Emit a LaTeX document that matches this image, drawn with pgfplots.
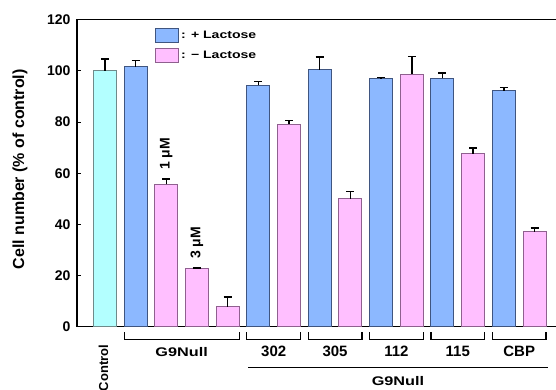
\documentclass[border=0pt]{standalone}
\usepackage{pgfplots}
\pgfplotsset{compat=1.18}
\usepackage{fontspec}
\setmainfont{Liberation Sans}
\newfontfamily\widefont[FakeStretch=1.3]{Liberation Sans Bold}
\definecolor{cyanbar}{HTML}{B3FFFF}
\definecolor{bluebar}{HTML}{8CB8FF}
\definecolor{pinkbar}{HTML}{FFBFFF}
\definecolor{blueedge}{HTML}{3F5580}
\definecolor{pinkedge}{HTML}{8F608F}
\definecolor{cyanedge}{HTML}{6F8A8A}
\begin{document}
\begin{tikzpicture}
\begin{axis}[
  scale only axis, width=482pt, height=307pt,
  xmin=-0.913, xmax=14.8, ymin=0, ymax=120,
  axis line style={line width=1.3pt},
  ytick={0,20,...,120}, xtick=\empty, ytick pos=left,
  tick align=inside, major tick length=4pt,
  tick style={black, line width=1pt},
  /pgf/number format/assume math mode=true,
  yticklabel style={font=\fontsize{14}{14}\selectfont\bfseries, xshift=-3pt},
  ylabel={Cell number (\% of control)},
  ylabel style={font=\fontsize{16}{16}\selectfont\bfseries, at={(axis description cs:-0.118,0.513)}, anchor=center},
  clip=false,
  legend style={at={(axis cs:1.63,116.8)}, anchor=north west, draw=none, fill=none, inner sep=0pt, font=\widefont\fontsize{10.8}{10.8}\selectfont, row sep=5pt},
  legend cell align=left,
]
\addplot[ybar, bar width=23pt, bar shift=0pt, fill=cyanbar, draw=cyanedge, line width=1pt, forget plot,
  error bars/.cd, y dir=plus, y explicit, error bar style={black, line width=1.5pt}, error mark options={rotate=90, black, line width=1.5pt, mark size=4pt}]
  coordinates {(0,100.1) +- (0,4.5)};
\addplot[ybar, bar width=23pt, bar shift=0pt, fill=bluebar, draw=blueedge, line width=1pt,
  legend image code/.code={\draw[fill=bluebar, draw=blueedge, line width=1pt] (0pt,-7pt) rectangle (23pt,7pt);},
  error bars/.cd, y dir=plus, y explicit, error bar style={black, line width=1.5pt}, error mark options={rotate=90, black, line width=1.5pt, mark size=4pt}]
  coordinates {(1,101.6) +- (0,2.4) (5,94.3) +- (0,1.5) (7,100.5) +- (0,5.0) (9,97.0) +- (0,0.5) (11,97.1) +- (0,2.0) (13,92.3) +- (0,1.2)};
\addlegendentry{: + Lactose}
\addplot[ybar, bar width=23pt, bar shift=0pt, fill=pinkbar, draw=pinkedge, line width=1pt,
  legend image code/.code={\draw[fill=pinkbar, draw=pinkedge, line width=1pt] (0pt,-7pt) rectangle (23pt,7pt);},
  error bars/.cd, y dir=plus, y explicit, error bar style={black, line width=1.5pt}, error mark options={rotate=90, black, line width=1.5pt, mark size=4pt}]
  coordinates {(2,55.7) +- (0,2.1) (3,22.6) +- (0,0.4) (4,7.9) +- (0,3.7) (6,79.2) +- (0,1.4) (8,50.0) +- (0,2.9) (10,98.7) +- (0,6.9) (12,67.7) +- (0,2.2) (14,37.1) +- (0,1.6)};
\addlegendentry{: − Lactose}
% annotations
\node[rotate=90, font=\fontsize{14}{14}\selectfont\bfseries] at (axis cs:2,67.6) {1 μM};
\node[rotate=90, font=\fontsize{14}{14}\selectfont\bfseries] at (axis cs:3,32.8) {3 μM};
\node[rotate=90, anchor=east, inner sep=0pt, font=\fontsize{13}{13}\selectfont\bfseries] at (axis cs:-0.05,-7) {Control};
\draw[line width=1.2pt] (axis cs:0.625,-2.2) -- (axis cs:0.625,-5.1) -- (axis cs:4.375,-5.1) -- (axis cs:4.375,-2.2);
\node[font=\widefont\fontsize{12.5}{12.5}\selectfont] at (axis cs:2.5,-9.8) {G9Null};
\draw[line width=1.2pt] (axis cs:4.625,-2.2) -- (axis cs:4.625,-5.1) -- (axis cs:6.375,-5.1) -- (axis cs:6.375,-2.2);
\draw[line width=1.2pt] (axis cs:6.625,-2.2) -- (axis cs:6.625,-5.1) -- (axis cs:8.375,-5.1) -- (axis cs:8.375,-2.2);
\draw[line width=1.2pt] (axis cs:8.625,-2.2) -- (axis cs:8.625,-5.1) -- (axis cs:10.375,-5.1) -- (axis cs:10.375,-2.2);
\draw[line width=1.2pt] (axis cs:10.625,-2.2) -- (axis cs:10.625,-5.1) -- (axis cs:12.375,-5.1) -- (axis cs:12.375,-2.2);
\draw[line width=1.2pt] (axis cs:12.625,-2.2) -- (axis cs:12.625,-5.1) -- (axis cs:14.375,-5.1) -- (axis cs:14.375,-2.2);
\node[font=\fontsize{15}{15}\selectfont\bfseries] at (axis cs:5.5,-9.5) {302};
\node[font=\fontsize{15}{15}\selectfont\bfseries] at (axis cs:7.5,-9.5) {305};
\node[font=\fontsize{15}{15}\selectfont\bfseries] at (axis cs:9.5,-9.5) {112};
\node[font=\fontsize{15}{15}\selectfont\bfseries] at (axis cs:11.5,-9.5) {115};
\node[font=\fontsize{15}{15}\selectfont\bfseries] at (axis cs:13.5,-9.5) {CBP};
\draw[line width=1.2pt] (axis cs:4.67,-16.0) -- (axis cs:14.44,-16.0);
\node[font=\widefont\fontsize{12.5}{12.5}\selectfont] at (axis cs:9.55,-21.3) {G9Null};
\coordinate (BL) at (axis cs:-3.42,-24.6);
\coordinate (TR) at (axis cs:14.70,127.7);
\end{axis}
\pgfresetboundingbox
\path[use as bounding box] (BL) rectangle (TR);
\end{tikzpicture}
\end{document}
